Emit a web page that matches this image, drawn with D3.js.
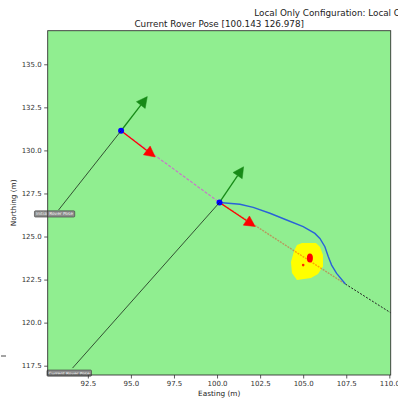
<!DOCTYPE html>
<html>
<head>
<meta charset="utf-8">
<script src="https://cdn.jsdelivr.net/npm/d3@7"></script>
<style>
  html, body { margin: 0; padding: 0; background: #fff; }
  svg { display: block; font-family: "DejaVu Sans", sans-serif; }
</style>
</head>
<body>
<svg id="chart" width="398" height="398"></svg>
<script>
// ---- chart data (metres, local easting / northing) ----
const titleTop = "Local Only Configuration: Local Only Configuration";
const titleMain = "Current Rover Pose [100.143 126.978]";
const xLabel = "Easting (m)";
const yLabel = "Northing (m)";

const xTicks = [92.5, 95.0, 97.5, 100.0, 102.5, 105.0, 107.5, 110.0];
const yTicks = [117.5, 120.0, 122.5, 125.0, 127.5, 130.0, 132.5, 135.0];

const initialPose = [94.43, 131.14];
const initialHeading = -37.5;       // degrees from east
const currentPose = [100.143, 126.978];
const currentHeading = -34;         // degrees from east
const axisLength = 2.5;             // pose arrow length (m)

const initialLabelAt = [90.56, 126.31];
const initialLabelLineFrom = [90.80, 126.54];
const currentLabelAt = [91.41, 117.07];
const currentLabelLineFrom = [91.61, 117.36];

const goalPoint = [107.45, 122.24];
const extensionEnd = [111.0, 119.99];

// planned path from the current pose to the goal
const planX = [100.143, 101.33, 102.10, 103.07, 104.04, 105.00, 105.68, 105.97, 106.26, 106.46, 106.65, 106.94, 107.45];
const planY = [126.978, 126.87, 126.69, 126.35, 125.96, 125.57, 125.18, 124.89, 124.41, 123.83, 123.34, 122.86, 122.24];

// obstacle footprint
const obstacleX = [104.64, 104.93, 105.74, 105.98, 106.15, 106.15, 105.86, 105.45, 104.64, 104.35, 104.29, 104.47];
const obstacleY = [124.51, 124.62, 124.62, 124.39, 123.92, 123.28, 122.82, 122.59, 122.47, 122.88, 123.52, 124.16];
const obstacleCore = [105.39, 123.75];
const obstacleSpeck = [105.00, 123.34];

// ---- layout ----
const svg = d3.select("#chart");
const plot = { left: 47.7, top: 30.7, right: 390.7, bottom: 375 };

const x = d3.scaleLinear().domain([90.17, 110.08]).range([plot.left, plot.right]);
const y = d3.scaleLinear().domain([116.96, 136.95]).range([plot.bottom, plot.top]);

svg.append("defs").append("clipPath").attr("id", "plotClip")
  .append("rect")
  .attr("x", plot.left).attr("y", plot.top)
  .attr("width", plot.right - plot.left).attr("height", plot.bottom - plot.top);

// background
svg.append("rect")
  .attr("x", plot.left).attr("y", plot.top)
  .attr("width", plot.right - plot.left).attr("height", plot.bottom - plot.top)
  .attr("fill", "#90ee90");

const g = svg.append("g").attr("clip-path", "url(#plotClip)");
const line = d3.line().x(d => x(d[0])).y(d => y(d[1]));

// obstacle
g.append("path")
  .attr("d", line(d3.zip(obstacleX, obstacleY)) + "Z")
  .attr("fill", "#ffff00");
g.append("ellipse")
  .attr("cx", x(obstacleCore[0])).attr("cy", y(obstacleCore[1]))
  .attr("rx", 3).attr("ry", 4.5).attr("fill", "#ff0000");
g.append("circle")
  .attr("cx", x(obstacleSpeck[0])).attr("cy", y(obstacleSpeck[1]))
  .attr("r", 1.3).attr("fill", "#ff2a00");

// straight line initial -> current pose
g.append("path")
  .attr("d", line([initialPose, currentPose]))
  .attr("stroke", "#c877c8").attr("stroke-width", 1.2)
  .attr("stroke-dasharray", "3,1.5").attr("fill", "none");

// straight line current pose -> goal
g.append("path")
  .attr("d", line([currentPose, goalPoint]))
  .attr("stroke", "#ff0000").attr("stroke-opacity", 0.35).attr("stroke-width", 1.4)
  .attr("stroke-dasharray", "2,1").attr("fill", "none");

// continuation beyond the goal
g.append("path")
  .attr("d", line([goalPoint, extensionEnd]))
  .attr("stroke", "#222").attr("stroke-width", 1)
  .attr("stroke-dasharray", "2,1.5").attr("fill", "none");

// planned path
g.append("path")
  .attr("d", line(d3.zip(planX, planY)))
  .attr("stroke", "#2a62d8").attr("stroke-width", 1.4).attr("fill", "none");

// annotation leader lines
const leaders = svg.append("g");
[[initialLabelLineFrom, initialPose], [currentLabelLineFrom, currentPose]].forEach(([a, b]) => {
  leaders.append("path").attr("d", line([a, b]))
    .attr("stroke", "#1a2a1a").attr("stroke-opacity", 0.8).attr("stroke-width", 1).attr("fill", "none");
});

// pose arrows
function arrow(origin, headingDeg, color) {
  const t = headingDeg * Math.PI / 180;
  const ux = Math.cos(t), uy = Math.sin(t);
  const px = -uy, py = ux;
  const headLen = 0.62, headW = 0.32;
  const shaftEnd = [origin[0] + ux * (axisLength - headLen), origin[1] + uy * (axisLength - headLen)];
  const tip = [origin[0] + ux * axisLength, origin[1] + uy * axisLength];
  g.append("path").attr("d", line([origin, shaftEnd]))
    .attr("stroke", color).attr("stroke-width", 1.3).attr("fill", "none");
  g.append("path")
    .attr("d", line([
      [shaftEnd[0] + px * headW, shaftEnd[1] + py * headW],
      tip,
      [shaftEnd[0] - px * headW, shaftEnd[1] - py * headW]
    ]) + "Z")
    .attr("fill", color).attr("stroke", color).attr("stroke-width", 0.5);
}
[[initialPose, initialHeading], [currentPose, currentHeading]].forEach(([p, h]) => {
  arrow(p, h + 90, "#178a17");
  arrow(p, h, "#ff0000");
});

// pose markers
g.selectAll("circle.pose").data([initialPose, currentPose]).enter()
  .append("circle").attr("class", "pose")
  .attr("cx", d => x(d[0])).attr("cy", d => y(d[1]))
  .attr("r", 3).attr("fill", "#0000ff");

// annotation labels
function tag(pos, text) {
  const grp = svg.append("g");
  const t = grp.append("text")
    .attr("x", x(pos[0])).attr("y", y(pos[1]))
    .attr("text-anchor", "middle").attr("dominant-baseline", "central")
    .attr("font-size", 4.3).attr("fill", "#f4f4f4").text(text);
  const bb = t.node().getBBox();
  grp.insert("rect", "text")
    .attr("x", bb.x - 1.5).attr("y", bb.y - 0.6)
    .attr("width", bb.width + 3).attr("height", bb.height + 1.2)
    .attr("rx", 1).attr("fill", "#8c8c8c").attr("stroke", "#3a3a3a").attr("stroke-width", 0.6);
}
tag(initialLabelAt, "Initial Rover Pose");
tag(currentLabelAt, "Current Rover Pose");

// frame
svg.append("rect")
  .attr("x", plot.left).attr("y", plot.top)
  .attr("width", plot.right - plot.left).attr("height", plot.bottom - plot.top)
  .attr("fill", "none").attr("stroke", "#333").attr("stroke-width", 0.9);

// axes
const xAxis = d3.axisBottom(x).tickValues(xTicks).tickFormat(d3.format(".1f")).tickSize(3.5).tickPadding(2.5);
const yAxis = d3.axisLeft(y).tickValues(yTicks).tickFormat(d3.format(".1f")).tickSize(3.5).tickPadding(2.5);
const gx = svg.append("g").attr("transform", `translate(0,${plot.bottom})`).call(xAxis);
const gy = svg.append("g").attr("transform", `translate(${plot.left},0)`).call(yAxis);
[gx, gy].forEach(a => {
  a.select(".domain").remove();
  a.selectAll("line").attr("stroke", "#333").attr("stroke-width", 0.8);
  a.selectAll("text").attr("font-size", 7).attr("fill", "#333").attr("font-family", "DejaVu Sans");
});

// axis titles
svg.append("text")
  .attr("x", (plot.left + plot.right) / 2).attr("y", 396)
  .attr("text-anchor", "middle").attr("font-size", 7.3).attr("fill", "#222").text(xLabel);
svg.append("text")
  .attr("transform", `translate(15.5,${(plot.top + plot.bottom) / 2}) rotate(-90)`)
  .attr("text-anchor", "middle").attr("font-size", 7.3).attr("fill", "#222").text(yLabel);

// titles
svg.append("text")
  .attr("x", 254.3).attr("y", 15.5)
  .attr("font-size", 8.8).attr("fill", "#222").text(titleTop);
svg.append("text")
  .attr("x", (plot.left + plot.right) / 2).attr("y", 26.5)
  .attr("text-anchor", "middle").attr("font-size", 8.8).attr("fill", "#222").text(titleMain);

// neighbouring panel tick at the left margin
svg.append("line")
  .attr("x1", 1).attr("x2", 6).attr("y1", 356).attr("y2", 356)
  .attr("stroke", "#333").attr("stroke-width", 0.9);
</script>
</body>
</html>
